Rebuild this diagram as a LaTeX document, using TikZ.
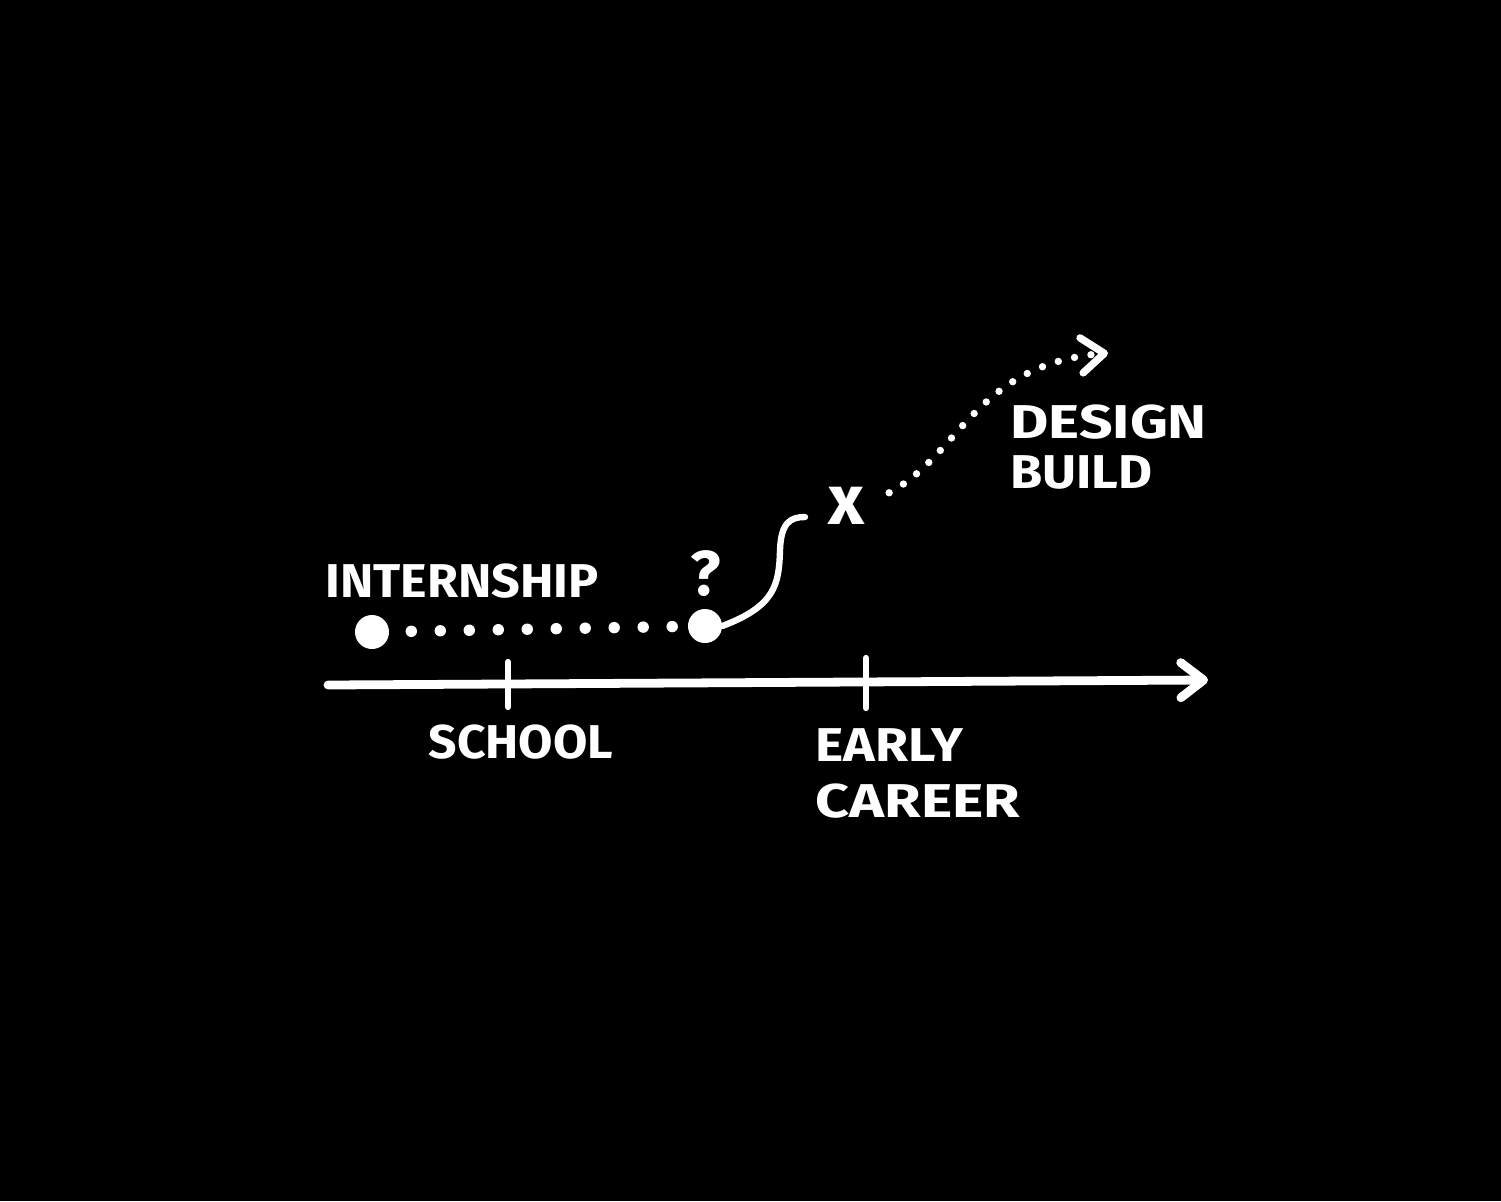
\documentclass[tikz,border=0pt]{standalone}
\usepackage{fontspec}
\setmainfont{Fira Sans}
\usetikzlibrary{arrows.meta, positioning}

\begin{document}
\begin{tikzpicture}[x=0.02cm, y=-0.02cm,
    hand/.style={text=white, font=\fontsize{27}{30}\selectfont\bfseries, inner sep=0pt},
    spot/.style={circle, fill=white, minimum size=0.68cm, inner sep=0pt},
    chev/.style={-{Straight Barb[length=13pt, width=20pt, line cap=round, line join=round]}},
    axisline/.style={draw=white, line width=5pt, line cap=round},
    tick/.style={draw=white, line width=3.6pt, line cap=round},
    dotline/.style={draw=white, line width=6.5pt, line cap=round, dash pattern=on 0pt off 16.5pt, dash phase=4pt},
    fineline/.style={draw=white, line width=4.2pt, line cap=round, dash pattern=on 0pt off 9.5pt}]
    % Background
    \fill[black] (0,0) rectangle (1501,1201);
    \useasboundingbox (0,0) rectangle (1501,1201);
    % Timeline
    \coordinate (start) at (328,685);
    \coordinate (end) at (1208,680);
    \draw[axisline, chev] (start) -- (end);
    \coordinate (school) at (508,684);
    \coordinate (career) at (866,683);
    \draw[tick] (school) ++(0,-22) -- ++(0,45);
    \draw[tick] (career) ++(0,-25) -- ++(0,50);
    \node[hand, xscale=1.05] (schooltxt) at (521,742) {SCHOOL};
    \node[hand, anchor=west, xscale=1.13] (early) at (815,745) {EARLY};
    \node[hand, anchor=north west, xscale=1.25] (careertxt) at (815,783) {CAREER};
    % Internship path
    \node[spot] (d1) at (372,632) {};
    \node[spot] (d2) at (705,626) {};
    \draw[dotline] (d1) -- (d2);
    \node[hand, xscale=1.06] (intern) at (462,581) {INTERNSHIP};
    \node[hand, font=\fontsize{36}{36}\selectfont\bfseries] (query) at (706,574) {?};
    % Turn towards design build
    \node[hand, font=\fontsize{40}{40}\selectfont\bfseries] (cross) at (846,506) {x};
    \coordinate (hook) at (805,517);
    \draw[draw=white, line width=3.6pt, line cap=round]
      (d2.east) .. controls (775,606) and (779,585) .. (780,550)
      .. controls (781,523) and (790,517) .. (hook);
    \coordinate (goal) at (1108,353);
    \draw[fineline, chev, shorten <=16pt] (cross.east) .. controls (960,455) and (975,365) .. (goal);
    \node[hand, anchor=west, xscale=1.24] (design) at (1010,422) {DESIGN};
    \node[hand, anchor=north west, xscale=1.1] (build) at (1010,455) {BUILD};
\end{tikzpicture}
\end{document}
